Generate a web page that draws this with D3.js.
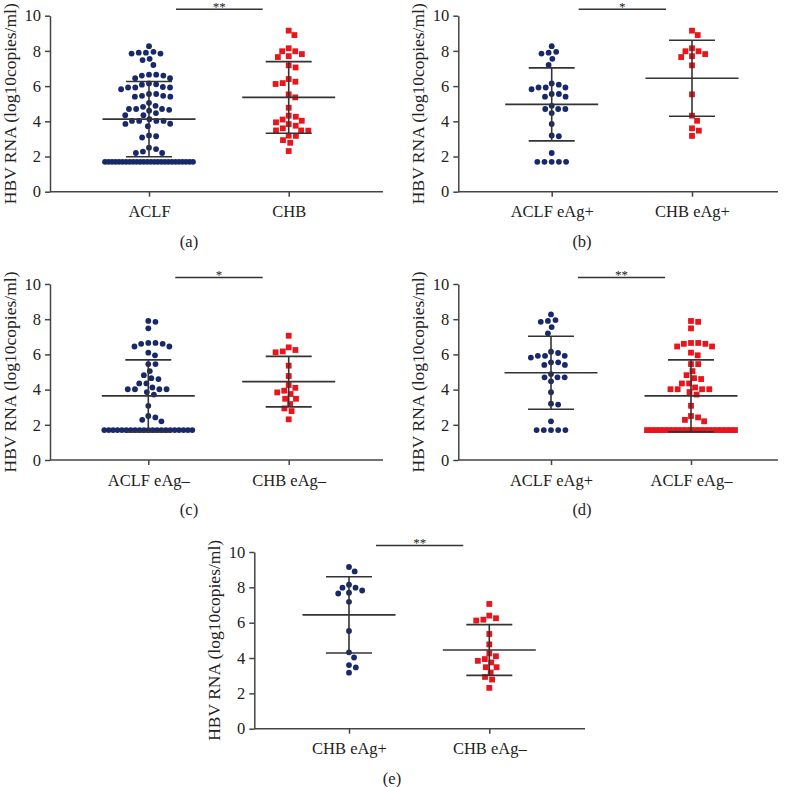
<!DOCTYPE html>
<html>
<head>
<meta charset="utf-8">
<script src="https://cdn.jsdelivr.net/npm/d3@7"></script>
<style>
  body { margin: 0; background: #fff; }
  svg { display: block; }
  text { font-family: "Liberation Serif", "Times New Roman", serif; }
</style>
</head>
<body>
<svg id="chart" width="786" height="787"></svg>
<script>
// HBV RNA values (log10 copies/ml)
let aclfPos = [8.27, 7.95, 7.9, 7.85, 7.55, 7.2, 6.15, 6.08, 5.92, 5.92, 5.92, 5.82,
  5.55, 5.55, 5.4, 5.4, 4.88, 4.7, 4.7, 4.7, 4.47, 3.85, 3.2, 3.15, 2.2,
  1.7, 1.7, 1.7, 1.7, 1.7];
let aclfNeg = [7.9, 7.85, 7.48, 6.65, 6.65, 6.6, 6.6, 6.45, 6.45, 6.1, 5.95, 5.45, 5.45,
  5.05, 4.82, 4.65, 4.6, 4.35, 4.35, 4.12, 4.02, 4.02, 4.02, 4.02, 3.86, 3.72, 3.08,
  2.5, 2.42, 2.28, 2.2,
  1.7, 1.7, 1.7, 1.7, 1.7, 1.7, 1.7, 1.7, 1.7, 1.7, 1.7, 1.7, 1.7, 1.7, 1.7, 1.7,
  1.7, 1.7, 1.7, 1.7, 1.7];
let chbPos = [9.15, 8.9, 8.15, 7.98, 7.98, 7.82, 7.7, 7.65, 7.18, 5.53, 4.32, 4.03,
  3.6, 3.47, 3.17];
let chbNeg = [7.06, 6.4, 6.25, 6.17, 6.12, 5.36, 4.77, 4.26, 4.1, 3.94, 3.84, 3.75,
  3.48, 3.48, 3.18, 2.93, 2.78, 2.31];
let aclfAll = aclfPos.concat(aclfNeg);
let chbAll = chbPos.concat(chbNeg);

let yTicks = [0, 2, 4, 6, 8, 10];
let yTitle = "HBV RNA (log10copies/ml)";

let navy = "#18296b", red = "#e8161c", ink = "#333";

// panel layout
let panels = [
  { label: "(a)", ax: 50, top: 15.7, bottom: 191.7, right: 383, cx: [149, 288.7], lx: 189,
    names: ["ACLF", "CHB"], sets: [aclfAll, chbAll], shapes: ["circle", "square"], stars: "**" },
  { label: "(b)", ax: 458.3, top: 15.7, bottom: 191.7, right: 778, cx: [551.7, 692], lx: 582,
    names: ["ACLF eAg+", "CHB eAg+"], sets: [aclfPos, chbPos], shapes: ["circle", "square"], stars: "*" },
  { label: "(c)", ax: 50, top: 284, bottom: 460, right: 383, cx: [148.3, 288.7], lx: 189,
    names: ["ACLF eAg–", "CHB eAg–"], sets: [aclfNeg, chbNeg], shapes: ["circle", "square"], stars: "*" },
  { label: "(d)", ax: 458.3, top: 284, bottom: 460, right: 778, cx: [551, 691], lx: 582,
    names: ["ACLF eAg+", "ACLF eAg–"], sets: [aclfPos, aclfNeg], shapes: ["circle", "square"], stars: "**" },
  { label: "(e)", ax: 254.3, top: 552, bottom: 728.7, right: 585, cx: [349, 489.3], lx: 392,
    names: ["CHB eAg+", "CHB eAg–"], sets: [chbPos, chbNeg], shapes: ["circle", "square"], stars: "**" }
];

let svg = d3.select("#chart");
let dot = 7.2, maxRow = 88;

// simple beeswarm: big ties become a squeezed row, the rest get packed near the centre
function swarm(vals, y) {
  let counts = d3.rollup(vals, v => v.length, v => v);
  let placed = [];
  counts.forEach((n, v) => {
    if (n * dot > maxRow) {
      let s = maxRow / (n - 1);
      for (let i = 0; i < n; i++) placed.push({ v: v, y: y(v), x: (i - (n - 1) / 2) * s });
    }
  });
  vals.filter(v => counts.get(v) * dot <= maxRow)
    .sort((a, b) => b - a)
    .forEach(v => {
      let py = y(v), cand = [0];
      placed.forEach(p => {
        let dy = Math.abs(p.y - py);
        if (dy < dot) {
          let dx = Math.sqrt(dot * dot - dy * dy);
          cand.push(p.x + dx, p.x - dx);
        }
      });
      cand.sort((a, b) => Math.abs(a) - Math.abs(b));
      let x = cand.find(c => placed.every(p => (p.x - c) ** 2 + (p.y - py) ** 2 >= dot * dot - 0.01));
      placed.push({ v: v, y: py, x: x });
    });
  return placed;
}

panels.forEach(p => {
  let g = svg.append("g");
  let y = d3.scaleLinear().domain([0, 10]).range([p.bottom, p.top]);
  let x = d3.scalePoint().domain(p.names).range(p.cx);

  // y axis
  let ya = g.append("g")
    .attr("transform", `translate(${p.ax},0)`)
    .call(d3.axisLeft(y).tickValues(yTicks).tickSize(5).tickSizeOuter(0).tickPadding(4));
  ya.select(".domain").attr("stroke", "#444").attr("stroke-width", 1.5);
  ya.selectAll(".tick line").attr("stroke", "#444").attr("stroke-width", 1.5);
  ya.selectAll(".tick text").attr("font-size", 16.5).attr("fill", "#222")
    .style("font-family", '"Liberation Serif", serif');

  // x axis
  g.append("line")
    .attr("x1", p.ax).attr("x2", p.right)
    .attr("y1", p.bottom).attr("y2", p.bottom)
    .attr("stroke", "#444").attr("stroke-width", 1.5);
  let xa = g.append("g")
    .attr("transform", `translate(0,${p.bottom})`)
    .call(d3.axisBottom(x).tickSize(5).tickSizeOuter(0).tickPadding(9));
  xa.select(".domain").remove();
  xa.selectAll(".tick line").attr("stroke", "#444").attr("stroke-width", 1.5);
  xa.selectAll(".tick text").attr("font-size", 16.5).attr("fill", "#222")
    .style("font-family", '"Liberation Serif", serif');

  // y title
  g.append("text")
    .attr("transform", `translate(${p.ax - 34},${(p.top + p.bottom) / 2}) rotate(-90)`)
    .attr("text-anchor", "middle")
    .attr("font-size", 17.5)
    .attr("fill", "#222")
    .text(yTitle);

  // points
  p.sets.forEach((vals, i) => {
    let cxv = x(p.names[i]);
    let pts = swarm(vals, y);
    if (p.shapes[i] == "circle") {
      g.append("g").selectAll("circle").data(pts).enter().append("circle")
        .attr("cx", d => cxv + d.x).attr("cy", d => d.y)
        .attr("r", 2.9).attr("fill", navy);
    } else {
      g.append("g").selectAll("rect").data(pts).enter().append("rect")
        .attr("x", d => cxv + d.x - 2.9).attr("y", d => d.y - 2.9)
        .attr("width", 5.8).attr("height", 5.8).attr("fill", red);
    }
  });

  // mean +/- SD
  p.sets.forEach((vals, i) => {
    let cxv = x(p.names[i]);
    let m = d3.mean(vals), sd = d3.deviation(vals);
    let eb = g.append("g").attr("stroke", ink).attr("stroke-width", 1.6);
    eb.append("line").attr("x1", cxv).attr("x2", cxv).attr("y1", y(m - sd)).attr("y2", y(m + sd));
    eb.append("line").attr("x1", cxv - 46.5).attr("x2", cxv + 46.5).attr("y1", y(m)).attr("y2", y(m));
    [m - sd, m + sd].forEach(v => {
      eb.append("line").attr("x1", cxv - 23).attr("x2", cxv + 23).attr("y1", y(v)).attr("y2", y(v));
    });
  });

  // significance bar
  let bx1 = p.cx[0] + 27, bx2 = p.cx[1] - 26, by = p.top - 6.5;
  g.append("line").attr("x1", bx1).attr("x2", bx2).attr("y1", by).attr("y2", by)
    .attr("stroke", ink).attr("stroke-width", 1.5);
  g.append("text")
    .attr("x", (bx1 + bx2) / 2).attr("y", by + 1.5)
    .attr("text-anchor", "middle").attr("font-size", 13).attr("fill", "#222")
    .text(p.stars);

  // panel label
  g.append("text")
    .attr("x", p.lx).attr("y", p.bottom + 55)
    .attr("text-anchor", "middle").attr("font-size", 16.5).attr("fill", "#222")
    .text(p.label);
});
</script>
</body>
</html>
